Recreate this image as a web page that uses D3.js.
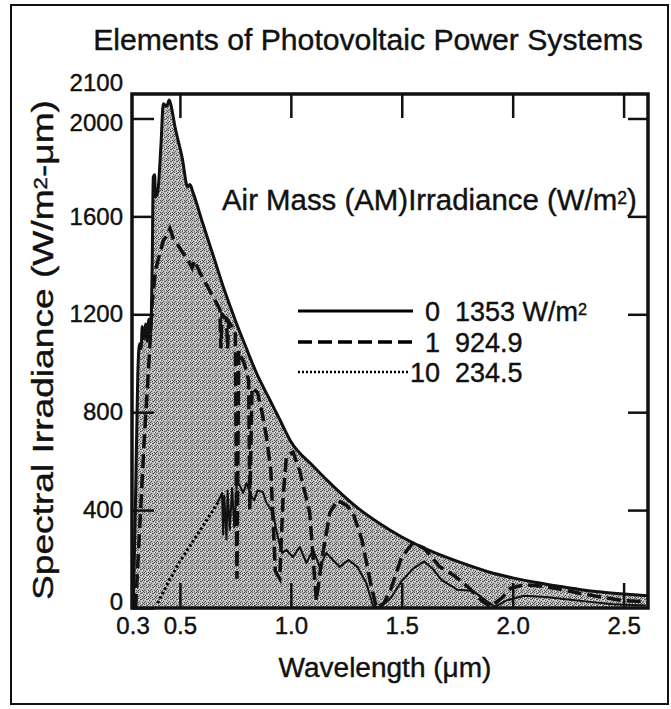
<!DOCTYPE html>
<html>
<head>
<meta charset="utf-8">
<script src="https://cdn.jsdelivr.net/npm/d3@7"></script>
<style>
body { margin: 0; background: #fff; }
text { font-family: "Liberation Sans", Arial, Helvetica, sans-serif; fill: #111; stroke: #111; stroke-width: 0.4px; }
</style>
</head>
<body>
<div id="chart"></div>
<script>
// spectral irradiance, [wavelength in um, W/m2-um]
var am0 = [
  [0.29, 0], [0.30, 450], [0.31, 950], [0.318, 1080], [0.325, 1060], [0.33, 1150], [0.338, 1100],
  [0.345, 1160], [0.352, 1090], [0.36, 1180], [0.368, 1120], [0.375, 1400], [0.38, 1760],
  [0.386, 1770], [0.39, 1680], [0.40, 1700], [0.415, 1900], [0.425, 2060], [0.44, 2050],
  [0.452, 2075], [0.458, 2060], [0.478, 1965], [0.51, 1840], [0.535, 1720], [0.545, 1730],
  [0.56, 1695], [0.6, 1580], [0.65, 1440], [0.7, 1300], [0.75, 1175], [0.8, 1060], [0.85, 950],
  [0.9, 860], [0.95, 770], [1.0, 680], [1.1, 580], [1.2, 490], [1.3, 410], [1.4, 345],
  [1.5, 290], [1.6, 245], [1.7, 208], [1.8, 175], [1.9, 145], [2.0, 123], [2.1, 105],
  [2.2, 90], [2.3, 76], [2.4, 65], [2.5, 57], [2.61, 50]
];

var am1 = [
  [0.30, 0], [0.32, 350], [0.34, 700], [0.36, 1000], [0.375, 1250], [0.39, 1380], [0.41, 1450],
  [0.425, 1500], [0.44, 1520], [0.455, 1550], [0.47, 1510], [0.50, 1470], [0.53, 1430],
  [0.555, 1390], [0.565, 1420], [0.59, 1370], [0.62, 1320], [0.65, 1270], [0.68, 1220],
  [0.685, 1060], [0.69, 1200], [0.71, 1180], [0.715, 1060], [0.72, 1170], [0.75, 1130],
  [0.757, 120], [0.765, 1050], [0.79, 1000], [0.81, 930], [0.815, 400], [0.825, 900],
  [0.85, 880], [0.87, 800], [0.89, 700], [0.91, 560], [0.93, 150], [0.95, 120], [0.965, 450],
  [0.98, 620], [1.01, 637], [1.04, 560], [1.085, 390], [1.115, 30], [1.14, 200], [1.176, 390],
  [1.21, 440], [1.25, 420], [1.28, 390], [1.32, 280], [1.36, 100], [1.386, 0], [1.42, 20],
  [1.45, 75], [1.5, 210], [1.55, 265], [1.6, 245], [1.67, 170], [1.74, 130], [1.8, 85],
  [1.86, 30], [1.9, 5], [1.95, 40], [1.99, 80], [2.05, 95], [2.12, 90], [2.2, 80], [2.3, 60],
  [2.4, 45], [2.5, 30], [2.6, 25]
];

var am10 = [
  [0.40, 20], [0.45, 110], [0.5, 190], [0.55, 260], [0.6, 330], [0.65, 400], [0.67, 430],
  [0.69, 470], [0.695, 300], [0.70, 460], [0.71, 280], [0.715, 480], [0.725, 320], [0.735, 490],
  [0.745, 330], [0.757, 510], [0.77, 500], [0.785, 470], [0.8, 510], [0.82, 460], [0.835, 440],
  [0.85, 480], [0.874, 474], [0.89, 430], [0.92, 388], [0.937, 306], [0.96, 225], [0.98, 237],
  [1.01, 208], [1.04, 250], [1.07, 184], [1.1, 237], [1.13, 168], [1.16, 225], [1.19, 196],
  [1.22, 168], [1.26, 196], [1.3, 168], [1.34, 102], [1.37, 10], [1.4, 0], [1.45, 40],
  [1.5, 110], [1.55, 160], [1.6, 190], [1.64, 160], [1.68, 114], [1.75, 75], [1.82, 70],
  [1.88, 30], [1.92, 5], [1.97, 30], [2.05, 50], [2.15, 45], [2.25, 35], [2.35, 25],
  [2.45, 15], [2.6, 10]
];

var xTicks = [0.3, 0.5, 1.0, 1.5, 2.0, 2.5];
var yTicks = [0, 400, 800, 1200, 1600, 2000, 2100];
var legendAM = ["0", "1", "10"];
var legendIrr = ["1353 W/m", "924.9", "234.5"];

var W = 671, H = 709;
var margin = { top: 94, left: 132 },
  width = 516,
  height = 514;

var svg = d3.select("#chart").append("svg")
  .attr("width", W)
  .attr("height", H);

// grow a text's font size until it spans the wanted width
function fitWidth(sel, target) {
  var w = sel.node().getBBox().width;
  var fs = parseFloat(sel.style("font-size"));
  sel.style("font-size", (fs * target / w) + "px");
}

// stipple for the shaded area
var defs = svg.append("defs");
var pat = defs.append("pattern")
  .attr("id", "stip")
  .attr("width", 6).attr("height", 6)
  .attr("patternUnits", "userSpaceOnUse");
pat.append("rect").attr("width", 6).attr("height", 6).attr("fill", "#bababa");
[[0, 0], [3, 1], [5, 2], [1, 3], [4, 4], [2, 5], [0, 4], [5, 5], [2, 1], [4, 0]].forEach(function (p) {
  pat.append("rect").attr("x", p[0]).attr("y", p[1]).attr("width", 1).attr("height", 1).attr("fill", "#555");
});
[[1, 1], [4, 2], [3, 5]].forEach(function (p) {
  pat.append("rect").attr("x", p[0]).attr("y", p[1]).attr("width", 1).attr("height", 1).attr("fill", "#eee");
});
defs.append("clipPath").attr("id", "plotClip")
  .append("rect").attr("width", width).attr("height", height);

// outer box
svg.append("rect")
  .attr("x", 11).attr("y", 5)
  .attr("width", 657).attr("height", 699)
  .attr("fill", "none").attr("stroke", "#111").attr("stroke-width", 2);

var title = svg.append("text")
  .attr("x", 368).attr("y", 50)
  .attr("text-anchor", "middle")
  .style("font-size", "28px")
  .text("Elements of Photovoltaic Power Systems");
fitWidth(title, 550);

var g = svg.append("g")
  .attr("transform", "translate(" + margin.left + "," + margin.top + ")");

var x = d3.scaleLinear().domain([0.284, 2.61]).range([0, width]);
var y = d3.scaleLinear().domain([0, 2100]).range([height, 0]);

var plot = g.append("g").attr("clip-path", "url(#plotClip)");

// shaded area under the AM0 curve
plot.append("path")
  .datum(am0)
  .attr("d", d3.area().curve(d3.curveMonotoneX)
    .x(function (d) { return x(d[0]); }).y0(height).y1(function (d) { return y(d[1]); }))
  .attr("fill", "url(#stip)");

var line = d3.line().x(function (d) { return x(d[0]); }).y(function (d) { return y(d[1]); });

// AM10 is dotted where it rises, thin solid after that
plot.append("path").datum(am10.filter(function (d) { return d[0] <= 0.67; }))
  .attr("d", line).attr("fill", "none").attr("stroke", "#000")
  .attr("stroke-width", 3).attr("stroke-dasharray", "2.5,2.5");
plot.append("path").datum(am10.filter(function (d) { return d[0] >= 0.67; }))
  .attr("d", line).attr("fill", "none").attr("stroke", "#111")
  .attr("stroke-width", 2).attr("stroke-linejoin", "round");

plot.append("path").datum(am1)
  .attr("d", line).attr("fill", "none").attr("stroke", "#111")
  .attr("stroke-width", 3.5).attr("stroke-dasharray", "14,6");

plot.append("path").datum(am0)
  .attr("d", d3.line().curve(d3.curveMonotoneX).x(function (d) { return x(d[0]); }).y(function (d) { return y(d[1]); }))
  .attr("fill", "none").attr("stroke", "#111")
  .attr("stroke-width", 3).attr("stroke-linejoin", "round");

// axes, ticks pointing inwards
function styleAxis(sel) {
  sel.select(".domain").remove();
  sel.selectAll(".tick line").attr("stroke", "#111").attr("stroke-width", 2.5);
  sel.selectAll(".tick text").style("font-size", "24px").attr("fill", "#111")
    .style("font-family", "'Liberation Sans', Arial, sans-serif");
}

var yAx = g.append("g")
  .call(d3.axisLeft(y).tickValues(yTicks).tickSize(-22).tickPadding(9).tickFormat(d3.format("d")))
  .call(styleAxis);
yAx.selectAll(".tick").filter(function (d) { return d === 2100; }).select("line").remove();
yAx.selectAll(".tick").filter(function (d) { return d === 2100; }).select("text").attr("y", -11);
yAx.selectAll(".tick").filter(function (d) { return d === 2000; }).select("text").attr("y", 4);
yAx.selectAll(".tick").filter(function (d) { return d === 0; }).select("text").attr("y", -6);

g.append("g")
  .attr("transform", "translate(" + width + ",0)")
  .call(d3.axisRight(y).tickValues(yTicks.slice(1, 6)).tickSize(-20).tickFormat(""))
  .call(styleAxis);

var xAx = g.append("g")
  .attr("transform", "translate(0," + height + ")")
  .call(d3.axisBottom(x).tickValues(xTicks).tickSize(-25).tickPadding(9).tickFormat(d3.format(".1f")))
  .call(styleAxis);
xAx.selectAll(".tick").filter(function (d) { return d === 0.3; }).select("line").remove();
xAx.selectAll(".tick").filter(function (d) { return d === 0.3; }).select("text").attr("x", -3);

g.append("g")
  .call(d3.axisTop(x).tickValues(xTicks.slice(1)).tickSize(-24).tickFormat(""))
  .call(styleAxis);

// plot frame
g.append("rect")
  .attr("width", width).attr("height", height)
  .attr("fill", "none").attr("stroke", "#111").attr("stroke-width", 3.5);

// axis titles
var xl = svg.append("text")
  .attr("x", 385).attr("y", 677)
  .attr("text-anchor", "middle")
  .style("font-size", "26px")
  .text("Wavelength (\u03bcm)");
fitWidth(xl, 213);

// y title is stretched along its length to reach the full axis height
var yl = svg.append("text")
  .attr("text-anchor", "middle")
  .style("font-size", "30px");
yl.append("tspan").text("Spectral Irradiance (W/m");
yl.append("tspan").attr("dy", "-0.35em").style("font-size", "0.6em").text("2");
yl.append("tspan").attr("dy", "0.21em").text("-\u03bcm)");
var ylw = yl.node().getBBox().width;
yl.attr("transform", "translate(53,350) rotate(-90) scale(" + (500 / ylw) + ",1)");

// legend
var lt = svg.append("text")
  .attr("x", 222).attr("y", 210)
  .style("font-size", "26px");
lt.append("tspan").text("Air Mass (AM)Irradiance (W/m");
lt.append("tspan").attr("dy", "-0.35em").style("font-size", "0.6em").text("2");
lt.append("tspan").attr("dy", "0.21em").text(")");
fitWidth(lt, 415);

var rowY = [311, 342, 372];
var dashes = [null, "14,6", "2,2"];
var lineEnd = [413, 413, 408];
var widths = [3, 3.5, 2.6];

legendAM.forEach(function (am, i) {
  svg.append("line")
    .attr("x1", 298).attr("x2", lineEnd[i])
    .attr("y1", rowY[i]).attr("y2", rowY[i])
    .attr("stroke", "#000").attr("stroke-width", widths[i])
    .attr("stroke-dasharray", dashes[i]);
  svg.append("text")
    .attr("x", 440).attr("y", rowY[i] + 10)
    .attr("text-anchor", "end")
    .style("font-size", "27px")
    .text(am);
  var t = svg.append("text")
    .attr("x", 455).attr("y", rowY[i] + 10)
    .style("font-size", "27px");
  t.append("tspan").text(legendIrr[i]);
  if (i === 0) {
    t.append("tspan").attr("dy", "-0.35em").style("font-size", "0.6em").text("2");
  }
});
</script>
</body>
</html>
